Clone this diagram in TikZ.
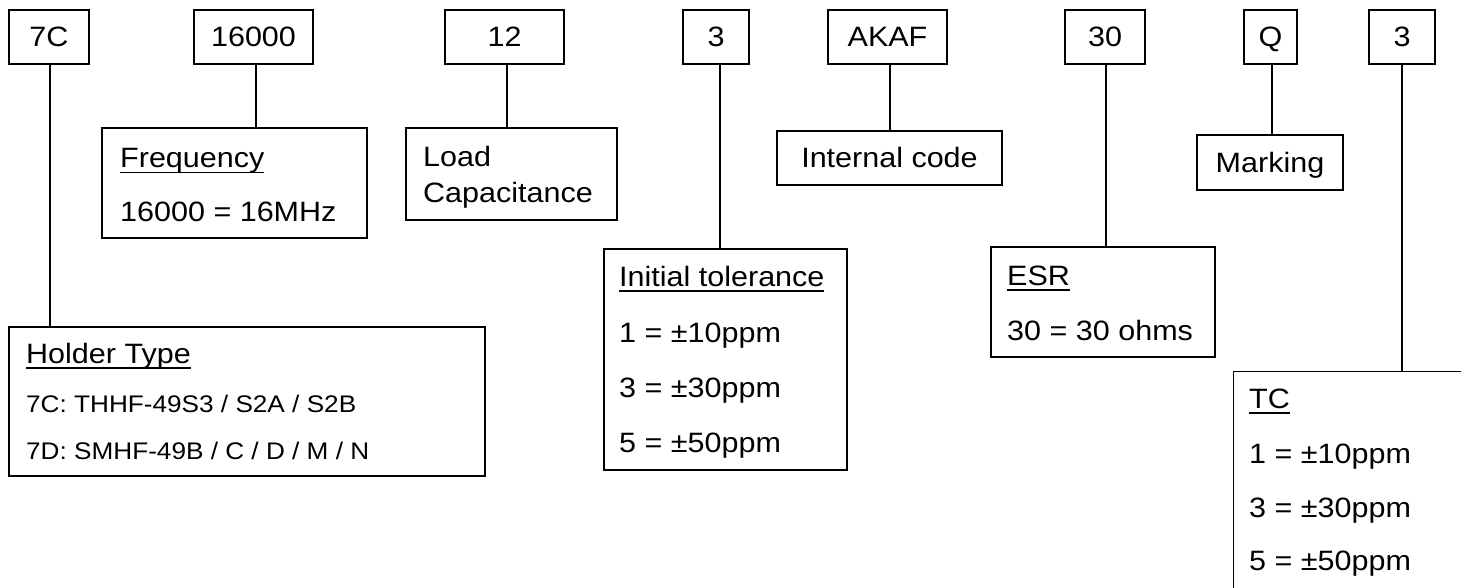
\documentclass[tikz,border=0pt]{standalone}
\usepackage{fontspec}
\setmainfont[FakeStretch=1.09]{Liberation Sans}
\newcommand\myul[1]{\setbox0\hbox{#1}\rlap{\rule[-5.5pt]{\wd0}{1.5pt}}\box0}
\begin{document}
\begin{tikzpicture}[x=1pt,y=-1pt,
  lw/.style={line width=1.3pt},
  every node/.style={font=\fontsize{28}{34}\selectfont, inner sep=0pt},
  codebox/.style={draw, lw, minimum height=54pt, text height=20pt, text depth=0pt},
  descbox/.style={draw, lw},
  onebox/.style={draw, lw, text height=20pt, text depth=0pt},
  txt/.style={anchor=base west},
  small/.style={anchor=base west, font=\fontsize{24}{29}\selectfont},
  conn/.style={lw}]
\useasboundingbox (0,0) rectangle (1461,588);
\clip (0,0) rectangle (1461,588);
\fill[white] (0,0) rectangle (1461,588);

% top code boxes
\node[codebox, minimum width=80pt]  (b7C)   at (49,37)    {7C};
\node[codebox, minimum width=119pt] (b16)   at (253.5,37) {16000};
\node[codebox, minimum width=119pt] (b12)   at (504.5,37) {12};
\node[codebox, minimum width=66pt]  (b3a)   at (716,37)   {3};
\node[codebox, minimum width=119pt] (bAK)   at (887.5,37) {AKAF};
\node[codebox, minimum width=80pt]  (b30)   at (1105,37)  {30};
\node[codebox, minimum width=53pt]  (bQ)    at (1270.5,37){Q};
\node[codebox, minimum width=66pt]  (b3b)   at (1402,37)  {3};

% description boxes
\node[descbox, minimum width=476pt, minimum height=149pt] (dHold) at (247,401.5) {};
\node[descbox, minimum width=265pt, minimum height=110pt] (dFreq) at (234.5,183) {};
\node[descbox, minimum width=211pt, minimum height=92pt]  (dLoad) at (511.5,174) {};
\node[descbox, minimum width=243pt, minimum height=221pt] (dInit) at (725.5,359.5) {};
\node[onebox, minimum width=225pt, minimum height=54pt]  (dInt)  at (889.5,158) {Internal code};
\node[descbox, minimum width=224pt, minimum height=110pt] (dESR)  at (1103,302) {};
\node[onebox, minimum width=146pt, minimum height=55pt]  (dMark) at (1270,162.5) {Marking};
\node[descbox, minimum width=300pt, minimum height=300pt, anchor=north west] (dTC) at (1233,371) {};

% connectors
\draw[conn] ([xshift=1pt]b7C.south)   -- ([xshift=1pt]b7C.south |- dHold.north);
\draw[conn] ([xshift=2.5pt]b16.south) -- ([xshift=2.5pt]b16.south |- dFreq.north);
\draw[conn] ([xshift=2.5pt]b12.south) -- ([xshift=2.5pt]b12.south |- dLoad.north);
\draw[conn] ([xshift=4pt]b3a.south)   -- ([xshift=4pt]b3a.south |- dInit.north);
\draw[conn] ([xshift=2.5pt]bAK.south) -- ([xshift=2.5pt]bAK.south |- dInt.north);
\draw[conn] ([xshift=1pt]b30.south)   -- ([xshift=1pt]b30.south |- dESR.north);
\draw[conn] ([xshift=1.5pt]bQ.south)  -- ([xshift=1.5pt]bQ.south |- dMark.north);
\draw[conn] (b3b.south) -- (b3b.south |- dTC.north);

% texts
\node[txt] (tF1) at (120,168) {\myul{Frequency}};
\node[txt] (tF2) at (120,222) {16000 = 16MHz};

\node[txt] (tL1) at (423,167) {Load};
\node[txt] (tL2) at (423,203) {Capacitance};

\node[txt] (tI1) at (619,286) {\myul{Initial tolerance}};
\node[txt] (tI2) at (619,342) {1 = ±10ppm};
\node[txt] (tI3) at (619,397) {3 = ±30ppm};
\node[txt] (tI4) at (619,452) {5 = ±50ppm};

\node[txt] (tE1) at (1007,285) {\myul{ESR}};
\node[txt] (tE2) at (1007,340) {30 = 30 ohms};

\node[txt] (tH1) at (26,363) {\myul{Holder Type}};
\node[small] (tH2) at (26,412) {7C: THHF-49S3 / S2A / S2B};
\node[small] (tH3) at (26,459) {7D: SMHF-49B / C / D / M / N};

\node[txt] (tT1) at (1249,408) {\myul{TC}};
\node[txt] (tT2) at (1249,463) {1 = ±10ppm};
\node[txt] (tT3) at (1249,517) {3 = ±30ppm};
\node[txt] (tT4) at (1249,570) {5 = ±50ppm};
\end{tikzpicture}
\end{document}
